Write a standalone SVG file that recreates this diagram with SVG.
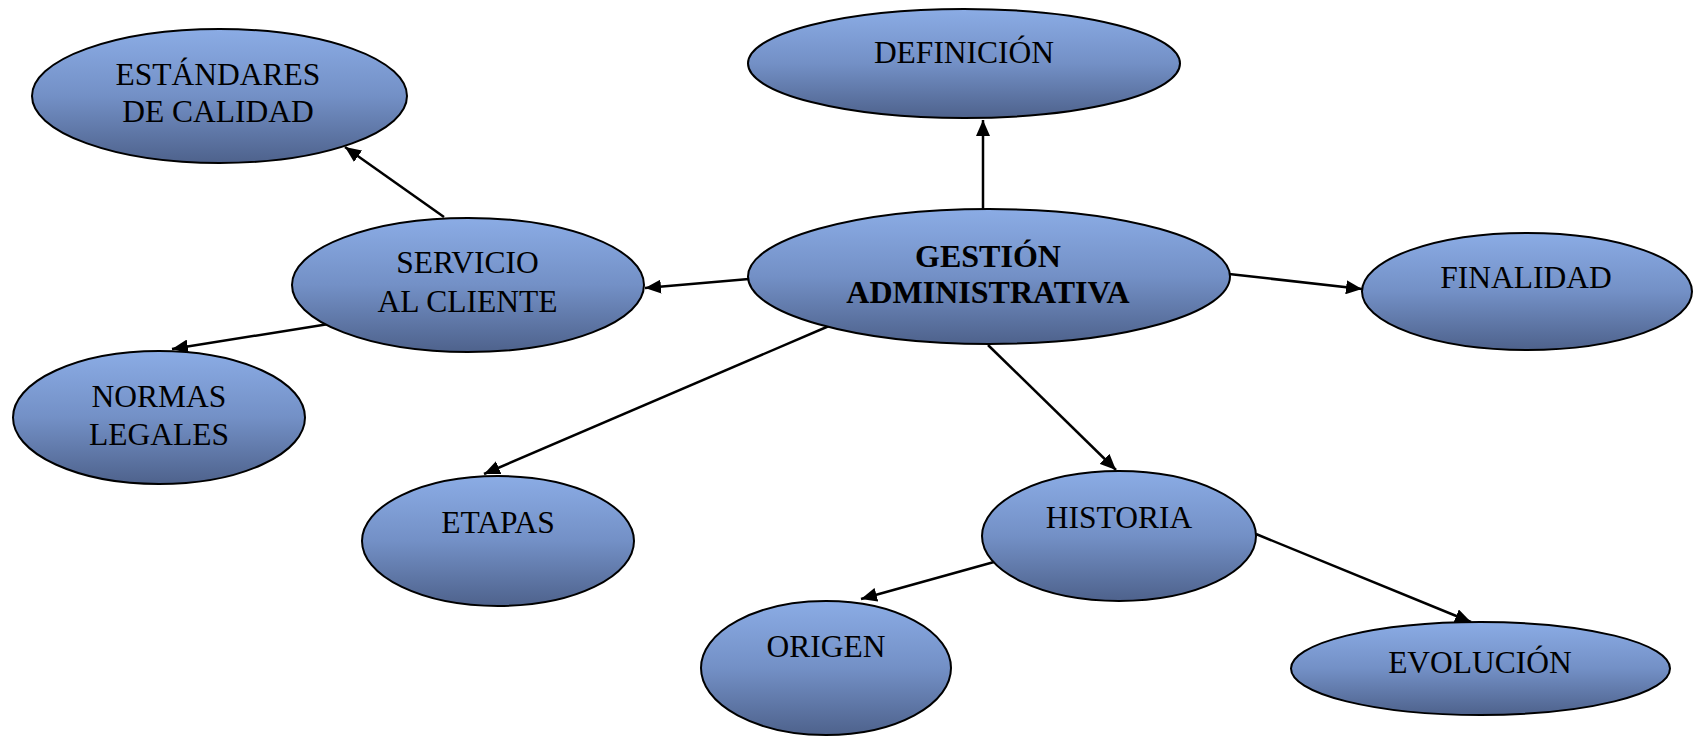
<svg xmlns="http://www.w3.org/2000/svg" width="1693" height="736" viewBox="0 0 1693 736">
<style>
.n{stroke:#000;stroke-width:2;fill:url(#g)}
.t{font-family:"Liberation Serif","Times New Roman",serif;font-size:31.5px;fill:#000;text-anchor:middle}
.b{font-weight:bold;font-size:32px}
.c{stroke:#000;stroke-width:2.5;fill:none;marker-end:url(#a)}
</style>
<defs>
<linearGradient id="g" x1="0" y1="0" x2="0" y2="1">
<stop offset="0" stop-color="#8BACE5"/>
<stop offset="0.5" stop-color="#7390C6"/>
<stop offset="1" stop-color="#4E628C"/>
</linearGradient>
<marker id="a" markerUnits="userSpaceOnUse" markerWidth="16" markerHeight="14" refX="16" refY="7" orient="auto">
<path d="M0,0 L16,7 L0,14 z" fill="#000"/>
</marker>
</defs>
<g id="connectors">
<line class="c" x1="983" y1="215" x2="983" y2="120"/>
<line class="c" x1="444" y1="217" x2="345" y2="147"/>
<line class="c" x1="749" y1="279" x2="645" y2="288"/>
<line class="c" x1="1229" y1="274" x2="1362" y2="289"/>
<line class="c" x1="335" y1="323" x2="172" y2="349"/>
<line class="c" x1="836" y1="323" x2="484" y2="474"/>
<line class="c" x1="988" y1="345" x2="1116" y2="470"/>
<line class="c" x1="994" y1="562" x2="861" y2="599"/>
<line class="c" x1="1256" y1="534" x2="1471" y2="622"/>
</g>
<g id="definicion">
<ellipse class="n" cx="964" cy="63.5" rx="216" ry="54.5"/>
<text class="t" x="964" y="63">DEFINICIÓN</text>
</g>
<g id="estandares">
<ellipse class="n" cx="219.5" cy="96" rx="187.5" ry="67"/>
<text class="t" x="218" y="85">ESTÁNDARES</text>
<text class="t" x="218" y="122">DE CALIDAD</text>
</g>
<g id="gestion">
<ellipse class="n" cx="989" cy="276.5" rx="241" ry="67.5"/>
<text class="t b" x="988" y="267">GESTIÓN</text>
<text class="t b" x="988" y="303">ADMINISTRATIVA</text>
</g>
<g id="servicio">
<ellipse class="n" cx="468" cy="285" rx="176" ry="67"/>
<text class="t" x="467.5" y="273">SERVICIO</text>
<text class="t" x="467.5" y="312">AL CLIENTE</text>
</g>
<g id="finalidad">
<ellipse class="n" cx="1527" cy="291.5" rx="165" ry="58.5"/>
<text class="t" x="1526" y="288">FINALIDAD</text>
</g>
<g id="normas">
<ellipse class="n" cx="159" cy="417.5" rx="146" ry="66.5"/>
<text class="t" x="159" y="407">NORMAS</text>
<text class="t" x="159" y="445">LEGALES</text>
</g>
<g id="etapas">
<ellipse class="n" cx="498" cy="541" rx="136" ry="65"/>
<text class="t" x="498" y="533">ETAPAS</text>
</g>
<g id="historia">
<ellipse class="n" cx="1119" cy="536" rx="137" ry="65"/>
<text class="t" x="1119" y="528">HISTORIA</text>
</g>
<g id="origen">
<ellipse class="n" cx="826" cy="668" rx="125" ry="67"/>
<text class="t" x="826" y="657">ORIGEN</text>
</g>
<g id="evolucion">
<ellipse class="n" cx="1480.5" cy="668.5" rx="189.5" ry="46.5"/>
<text class="t" x="1480" y="673">EVOLUCIÓN</text>
</g>
</svg>
